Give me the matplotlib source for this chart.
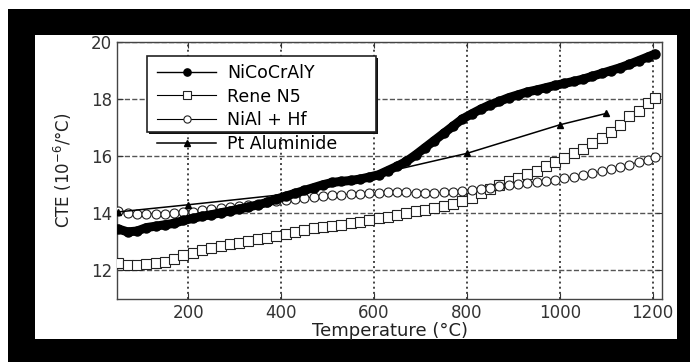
import matplotlib
matplotlib.use('Agg')
import matplotlib.pyplot as plt
from matplotlib.patches import Rectangle

# 温度 (°C)
temperature = [50, 70, 90, 110, 130, 150, 170, 190, 210, 230,
               250, 270, 290, 310, 330, 350, 370, 390, 410, 430,
               450, 470, 490, 510, 530, 550, 570, 590, 610, 630,
               650, 670, 690, 710, 730, 750, 770, 790, 810, 830,
               850, 870, 890, 910, 930, 950, 970, 990, 1010, 1030,
               1050, 1070, 1090, 1110, 1130, 1150, 1170, 1190, 1205]

cte_nicocraly = [13.45, 13.35, 13.38, 13.50, 13.55, 13.60, 13.65, 13.75, 13.82, 13.90,
                 13.95, 14.02, 14.08, 14.15, 14.22, 14.30, 14.38, 14.50, 14.60, 14.70,
                 14.80, 14.90, 15.00, 15.08, 15.12, 15.15, 15.20, 15.27, 15.35, 15.50,
                 15.65, 15.82, 16.05, 16.30, 16.55, 16.80, 17.05, 17.30, 17.48, 17.65,
                 17.80, 17.92, 18.05, 18.15, 18.25, 18.32, 18.40, 18.48, 18.55, 18.62,
                 18.70, 18.80, 18.90, 19.00, 19.10, 19.22, 19.35, 19.48, 19.58]

cte_rene_n5 = [12.25, 12.20, 12.20, 12.22, 12.25, 12.30, 12.40, 12.55, 12.62, 12.70,
               12.78, 12.85, 12.92, 12.97, 13.03, 13.10, 13.15, 13.22, 13.28, 13.35,
               13.42, 13.48, 13.52, 13.56, 13.60, 13.65, 13.70, 13.77, 13.82, 13.88,
               13.95, 14.00, 14.07, 14.12, 14.18, 14.25, 14.32, 14.42, 14.55, 14.70,
               14.85, 14.98, 15.12, 15.25, 15.38, 15.50, 15.65, 15.80, 15.95, 16.10,
               16.25, 16.45, 16.65, 16.85, 17.10, 17.40, 17.60, 17.85, 18.05]

cte_nial_hf = [14.07, 14.00, 13.97, 13.97, 13.98, 13.99, 14.00, 14.03, 14.06, 14.10,
               14.14, 14.18, 14.22, 14.26, 14.30, 14.34, 14.38, 14.42, 14.46, 14.50,
               14.54, 14.57, 14.60, 14.63, 14.65, 14.67, 14.69, 14.70, 14.72, 14.73,
               14.73, 14.73, 14.72, 14.72, 14.72, 14.73, 14.75, 14.77, 14.80, 14.85,
               14.90, 14.95, 15.00, 15.04, 15.07, 15.10, 15.14, 15.18, 15.22, 15.27,
               15.33, 15.40, 15.47, 15.55, 15.63, 15.71, 15.80, 15.88, 15.96]

temp_pt = [50, 200, 400, 600, 800, 1000, 1100]
cte_pt_aluminide = [14.05, 14.30, 14.65, 15.35, 16.10, 17.10, 17.50]

labels = ['NiCoCrAlY', 'Rene N5', 'NiAl + Hf', 'Pt Aluminide']

plt.rcParams['font.family'] = ['DejaVu Sans']

fig = plt.figure(figsize=(6.9, 3.62), dpi=100, facecolor='white')

# 黒い枠と内側の白い領域
W, H = 690.0, 362.0
fig.add_artist(Rectangle((8 / W, 0), 1 - 8 / W, (H - 9) / H, transform=fig.transFigure,
                         facecolor='black', edgecolor='none', zorder=-10))
fig.add_artist(Rectangle((35 / W, (H - 339) / H), (677 - 35) / W, (339 - 35) / H,
                         transform=fig.transFigure, facecolor='white', edgecolor='none', zorder=-9))

ax = fig.add_axes([117 / W, (H - 299) / H, (662 - 117) / W, (299 - 42) / H])

ax.plot(temperature, cte_nicocraly, '-', color='black', lw=6.5, zorder=5,
        solid_capstyle='round')
ax.plot(temperature, cte_nicocraly, '-o', color='black', lw=1, ms=6.5,
        mfc='black', mec='black', label=labels[0], zorder=6)
ax.plot(temperature, cte_rene_n5, '-s', color='black', lw=0.8, ms=6.5,
        mfc='white', mec='#222222', mew=0.8, label=labels[1], zorder=3)
ax.plot(temperature, cte_nial_hf, '-o', color='black', lw=0.8, ms=6.5,
        mfc='white', mec='#222222', mew=0.8, label=labels[2], zorder=4)
ax.plot(temp_pt, cte_pt_aluminide, '-^', color='black', lw=1.1, ms=5,
        mfc='black', label=labels[3], zorder=7)

ax.set_xlim(47, 1220)
ax.set_ylim(11, 20)
ax.set_xticks([200, 400, 600, 800, 1000, 1200])
ax.set_yticks([12, 14, 16, 18, 20])

ax.xaxis.grid(True, linestyle=':', color='#444444', lw=1.4)
ax.yaxis.grid(True, linestyle='--', color='#555555', lw=1.0)
ax.set_axisbelow(True)

ax.tick_params(direction='in', top=True, right=True, labelsize=12, colors='#333333',
               length=4)
for sp in ax.spines.values():
    sp.set_color('#444444')
    sp.set_linewidth(1.0)

ax.set_xlabel('Temperature (°C)', fontsize=13, color='#222222', labelpad=0)
ax.set_ylabel('CTE (10$^{-6}$/°C)', fontsize=12, color='#222222', labelpad=12)

# 凡例の枠 (最初の3項目だけを囲む)
ax.add_patch(Rectangle((0.059, 0.642), 0.42, 0.2955, transform=ax.transAxes,
                       facecolor='#111111', edgecolor='none', zorder=8))
ax.add_patch(Rectangle((0.055, 0.65), 0.42, 0.2955, transform=ax.transAxes,
                       facecolor='white', edgecolor='#222222', lw=1.2, zorder=8))
leg = ax.legend(loc='upper left', bbox_to_anchor=(0.074, 0.915), frameon=False,
                fontsize=12.5, handlelength=3.4, handletextpad=0.6, markerscale=0.8,
                labelspacing=0.33, borderpad=0, borderaxespad=0)
leg.set_zorder(9)

fig.savefig('out.png', dpi=100, facecolor='white')
